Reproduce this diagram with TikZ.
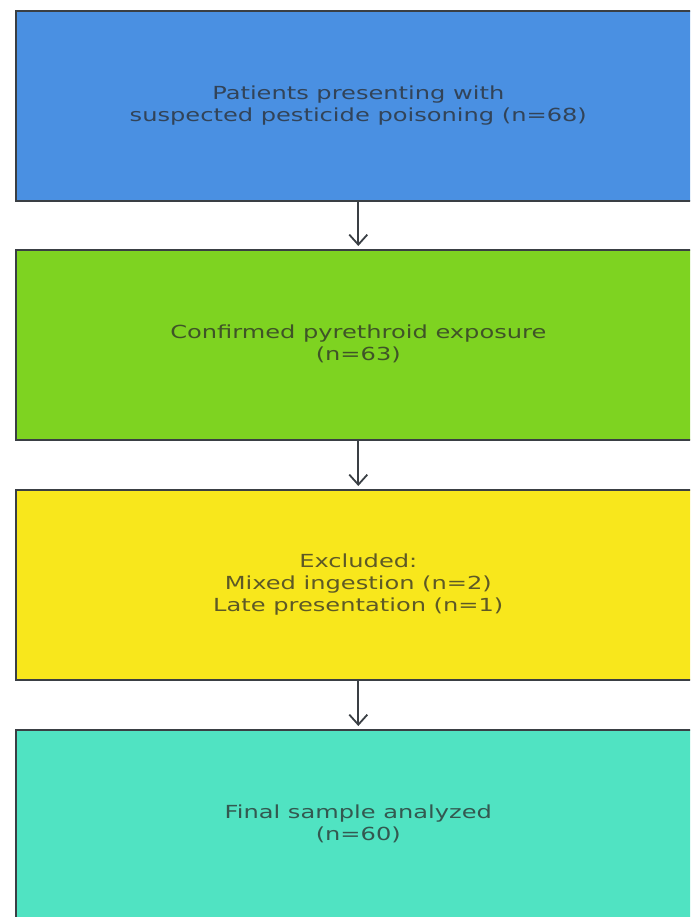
\documentclass[tikz,border=0pt]{standalone}
\usepackage{fontspec}
\setmainfont{DejaVu Sans}
\usetikzlibrary{arrows.meta}
\definecolor{cblue}{HTML}{4A90E2}
\definecolor{cgreen}{HTML}{7ED321}
\definecolor{cyellow}{HTML}{F8E71C}
\definecolor{cteal}{HTML}{50E3C2}
\definecolor{cedge}{HTML}{3A3F44}
\definecolor{ctext}{HTML}{2A2A2A}
\newcommand{\wideline}[1]{\scalebox{1.34}[1]{\begin{tabular}{@{}c@{}}#1\end{tabular}}}
\tikzset{
  stagebox/.style={draw=cedge, line width=1.6pt, minimum width=685pt, minimum height=190pt,
    align=center, text=ctext, text opacity=0.75, font=\fontsize{18}{22}\selectfont, inner sep=0pt, anchor=north west},
  flowarrow/.style={draw=cedge, line width=1.8pt, -{Straight Barb[length=10pt,width=18pt,line width=1.8pt]}}
}
\begin{document}
\begin{tikzpicture}[x=1pt,y=1pt]
\useasboundingbox (0,0) rectangle (690,917);
\fill[white] (0,0) rectangle (690,917);
\clip (0,0) rectangle (690,917);
\node[stagebox, fill=cblue] (b1) at (15,907) {\wideline{Patients presenting with\\suspected pesticide poisoning (n=68)}};
\node[stagebox, fill=cgreen] (b2) at (15,668) {\wideline{Confirmed pyrethroid exposure\\(n=63)}};
\node[stagebox, fill=cyellow] (b3) at (15,428) {\wideline{Excluded:\\Mixed ingestion (n=2)\\Late presentation (n=1)}};
\node[stagebox, fill=cteal] (b4) at (15,188) {\wideline{Final sample analyzed\\(n=60)}};
\draw[flowarrow] (b1.south) -- ([yshift=3pt]b2.north);
\draw[flowarrow] (b2.south) -- ([yshift=3pt]b3.north);
\draw[flowarrow] (b3.south) -- ([yshift=3pt]b4.north);
\end{tikzpicture}
\end{document}
